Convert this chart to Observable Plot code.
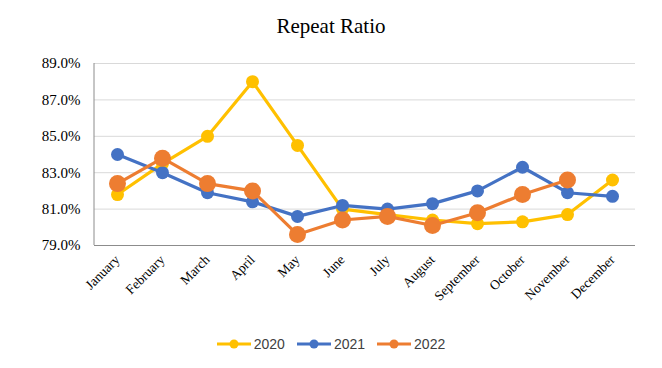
<!DOCTYPE html>
<html>
<head>
<meta charset="utf-8">
<script src="https://cdn.jsdelivr.net/npm/d3@7"></script>
<script src="https://cdn.jsdelivr.net/npm/@observablehq/plot@0.6"></script>
<style>
  html, body { margin: 0; padding: 0; background: #fff; }
  #wrap { position: relative; width: 662px; height: 368px; overflow: hidden; background: #fff; }
  #title { position: absolute; top: 16px; left: 0; width: 662px; text-align: center;
           font-family: "Liberation Serif", serif; font-size: 21px; line-height: 21px; color: #000; }
  #chart { position: absolute; top: 50px; left: 0; }
  #chart g[aria-label="x-axis tick label"] text { font-size: 13.5px !important; }
  #chart g[aria-label="y-axis tick label"] text { font-size: 15px !important; }
  #legend { position: absolute; top: 334px; left: 0; width: 662px; display: flex; justify-content: center;
            font-family: "Liberation Sans", sans-serif; font-size: 14px; color: #404040; }
  .item { display: flex; align-items: center; margin: 0 6px; }
  .item span { margin-left: 3px; }
</style>
</head>
<body>
<div id="wrap">
  <div id="title">Repeat Ratio</div>
  <div id="chart"></div>
  <div id="legend"></div>
</div>
<script>
const months = ["January","February","March","April","May","June","July","August","September","October","November","December"];
const series = ["2020","2021","2022"];
const colors = ["#FFC000","#4472C4","#ED7D31"];
const radii = [6.5, 6.5, 8.5];
const values2020 = [81.8, 83.5, 85.0, 88.0, 84.5, 81.0, 80.7, 80.4, 80.2, 80.3, 80.7, 82.6];
const values2021 = [84.0, 83.0, 81.9, 81.4, 80.6, 81.2, 81.0, 81.3, 82.0, 83.3, 81.9, 81.7];
const values2022 = [82.4, 83.8, 82.4, 82.0, 79.6, 80.4, 80.6, 80.1, 80.8, 81.8, 82.6];
const yTicks = [79, 81, 83, 85, 87, 89];

const allValues = [values2020, values2021, values2022];
const rows = allValues.map((vals, s) => vals.map((v, i) => ({month: months[i], value: v, series: series[s]})));

const marks = [
  Plot.ruleY(yTicks.filter(t => t !== 79), {stroke: "#d9d9d9", strokeWidth: 1}),
  Plot.ruleY([79], {stroke: "#8c8c8c", strokeWidth: 1}),
  (index, scales, values, dims) => {
    const l = document.createElementNS("http://www.w3.org/2000/svg", "line");
    l.setAttribute("x1", dims.marginLeft); l.setAttribute("x2", dims.marginLeft);
    l.setAttribute("y1", dims.marginTop); l.setAttribute("y2", dims.height - dims.marginBottom);
    l.setAttribute("stroke", "#8c8c8c");
    return l;
  },
  Plot.axisY({ticks: yTicks, tickSize: 0, tickPadding: 14, fontSize: 15, tickFormat: d => d.toFixed(1) + "%", label: null}),
  Plot.axisX({tickSize: 0, tickRotate: -45, tickPadding: 12, fontSize: 13.5, label: null})
];
rows.forEach((r, s) => {
  marks.push(Plot.line(r, {x: "month", y: "value", stroke: colors[s], strokeWidth: 3.2}));
  marks.push(Plot.dot(r, {x: "month", y: "value", fill: colors[s], r: radii[s]}));
});

const chart = Plot.plot({
  width: 662,
  height: 270,
  marginLeft: 94,
  marginRight: 27,
  marginTop: 13,
  marginBottom: 75,
  style: {fontFamily: "Liberation Serif, serif", fontSize: "13.5px", color: "#000", background: "#fff"},
  x: {type: "point", domain: months, padding: 0.5},
  y: {domain: [79, 89]},
  marks
});
document.getElementById("chart").appendChild(chart);

const legend = document.getElementById("legend");
series.forEach((s, i) => {
  const item = document.createElement("div");
  item.className = "item";
  item.innerHTML = `<svg width="34" height="20"><line x1="0" x2="34" y1="10" y2="10" stroke="${colors[i]}" stroke-width="3"/><circle cx="17" cy="10" r="4.5" fill="${colors[i]}"/></svg><span>${s}</span>`;
  legend.appendChild(item);
});
</script>
</body>
</html>
